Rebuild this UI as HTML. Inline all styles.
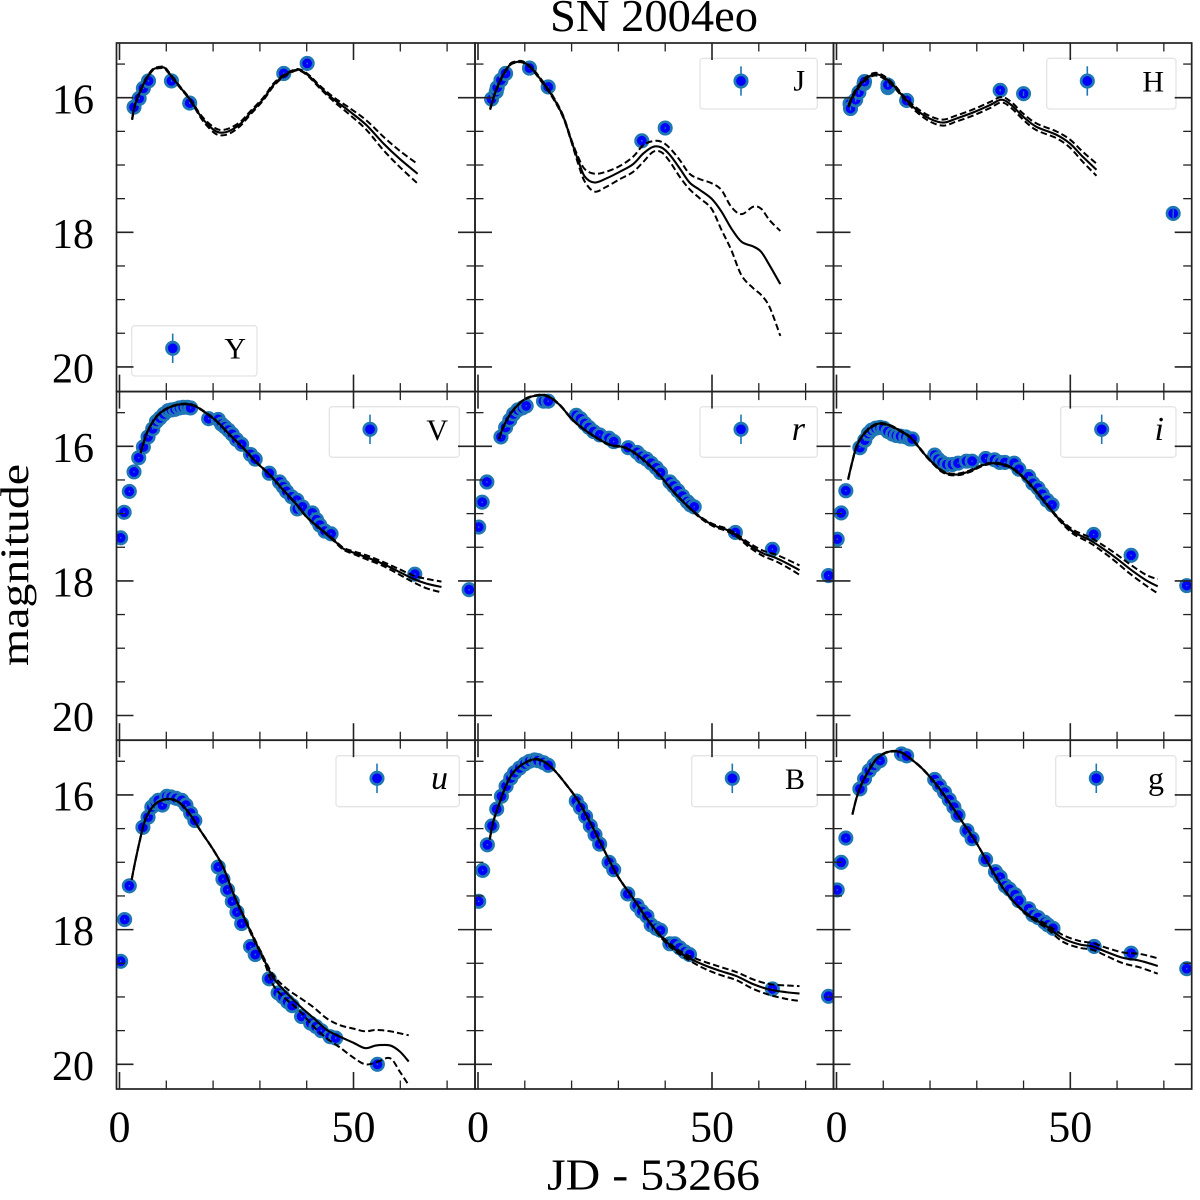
<!DOCTYPE html>
<html>
<head>
<meta charset="utf-8">
<title>SN 2004eo</title>
<style>
html,body{margin:0;padding:0;background:#fff;}
svg{display:block;}
text{font-family:"Liberation Serif",serif;fill:#000;}
</style>
</head>
<body>
<svg id="chart" xmlns="http://www.w3.org/2000/svg" width="1200" height="1200" viewBox="0 0 1200 1200">
  <rect x="0" y="0" width="1200" height="1200" fill="#fff"/>
  <text x="654" y="31" font-size="46" text-anchor="middle" textLength="208" lengthAdjust="spacingAndGlyphs">SN 2004eo</text>
  <text x="653.5" y="1189.5" font-size="44" text-anchor="middle" textLength="213" lengthAdjust="spacingAndGlyphs">JD - 53266</text>
  <text transform="translate(28,565) rotate(-90)" font-size="40" text-anchor="middle" textLength="202" lengthAdjust="spacingAndGlyphs">magnitude</text>
</svg>
<script>
// ---- Band Y ----
const tY = [3.1,4.2,5.1,6.2,11.1,15.0,35.1,40.1];
const magY = [16.14,16.01,15.86,15.75,15.75,16.08,15.64,15.49];
const errY = 0.012;
const modelTY = [2.7,3.3,4.4,5.8,7.2,8.7,9.7,11.1,12.9,15.1,17.2,18.6,20.4,21.8,23.6,25.8,27.9,30.7,32.9,35.0,37.5,38.9,40.7,42.8,45.7,49.3,52.8,56.4,59.9,63.7];
const modelMagY = [16.32,16.11,15.91,15.71,15.58,15.55,15.56,15.68,15.84,16.03,16.26,16.38,16.49,16.52,16.49,16.39,16.23,16.02,15.81,15.68,15.59,15.60,15.69,15.84,16.02,16.21,16.41,16.68,16.91,17.13];
const modelUpY = [0.01,0.01,0.01,0.01,0.01,0.01,0.01,0.01,0.01,0.01,0.02,0.03,0.04,0.04,0.04,0.03,0.025,0.02,0.02,0.015,0.01,0.01,0.015,0.02,0.03,0.05,0.07,0.10,0.12,0.145];
const modelLoY = modelUpY;

// ---- Band J ----
const tJ = [2.9,3.9,4.1,4.9,5.9,11.0,15.0,35.0,40.0];
const magJ = [16.02,15.91,15.85,15.74,15.64,15.56,15.84,16.64,16.45];
const errJ = 0.012;
const modelTJ = [2.6,3.6,5.0,6.8,8.2,9.6,11.4,13.5,16.0,18.2,19.9,21.4,22.8,24.9,27.4,30.3,33.1,35.3,37.4,39.2,41.0,43.1,45.2,47.4,49.9,52.0,54.1,56.3,58.8,60.5,62.3,64.6];
const modelMagJ = [16.17,15.94,15.71,15.51,15.47,15.47,15.56,15.74,15.99,16.28,16.63,16.93,17.17,17.26,17.20,17.10,16.99,16.83,16.73,16.74,16.85,17.05,17.26,17.37,17.50,17.69,17.94,18.14,18.21,18.29,18.49,18.77];
const modelUpJ = [0.01,0.01,0.01,0.01,0.01,0.01,0.01,0.015,0.015,0.015,0.015,0.05,0.11,0.13,0.10,0.085,0.11,0.125,0.085,0.085,0.10,0.125,0.13,0.16,0.23,0.32,0.32,0.41,0.59,0.64,0.67,0.79];
const modelLoJ = [0.01,0.01,0.01,0.01,0.01,0.01,0.01,0.015,0.015,0.015,0.015,0.05,0.075,0.135,0.125,0.11,0.115,0.125,0.075,0.07,0.10,0.125,0.10,0.125,0.15,0.27,0.32,0.50,0.62,0.64,0.62,0.77];

// ---- Band H ----
const tH = [2.9,3.0,4.1,4.8,5.9,6.0,11.0,11.0,15.0,35.0,40.0,72.0];
const magH = [16.09,16.16,16.03,15.92,15.79,15.76,15.85,15.81,16.04,15.89,15.94,17.72];
const errH = [0.03,0.03,0.03,0.03,0.03,0.03,0.03,0.03,0.03,0.02,0.035,0.065];
const modelTH = [2.6,3.6,5.0,6.4,8.2,10.0,12.1,14.6,17.1,19.9,22.8,25.6,29.2,32.8,35.3,37.4,39.9,42.7,47.0,49.9,52.7,55.6];
const modelMagH = [16.12,15.96,15.81,15.71,15.65,15.69,15.81,16.01,16.18,16.31,16.37,16.31,16.22,16.11,16.03,16.11,16.28,16.43,16.55,16.68,16.88,17.07];
const modelUpH = [0.02,0.02,0.02,0.02,0.02,0.02,0.02,0.02,0.03,0.04,0.045,0.045,0.045,0.045,0.04,0.045,0.045,0.05,0.05,0.06,0.075,0.09];
const modelLoH = modelUpH;

// ---- Band V ----
const tV = [0.25,1.0,2.1,3.1,4.1,5.1,6.1,7.1,7.9,8.65,9.5,10.4,11.1,11.9,12.8,13.6,14.5,15.2,19.05,21.1,21.8,22.5,23.3,24.1,25.0,26.1,28.0,29.0,32.0,34.2,35.0,35.7,36.8,37.9,38.0,39.1,41.2,42.1,42.8,43.9,45.2,63.1,74.7];
const magV = [17.36,16.98,16.67,16.38,16.17,16.01,15.86,15.74,15.63,15.58,15.52,15.47,15.46,15.45,15.43,15.42,15.42,15.43,15.59,15.60,15.67,15.71,15.76,15.82,15.90,15.97,16.12,16.19,16.40,16.53,16.60,16.67,16.75,16.80,16.93,16.90,16.99,17.09,17.17,17.26,17.30,17.90,18.13];
const errV = 0.01;
const modelTV = [4.5,5.1,5.8,6.9,8.3,10.1,11.9,14.0,16.1,18.6,20.8,23.6,26.5,29.3,32.2,35.0,37.9,40.0,42.8,45.7,47.8,49.97,52.8,56.4,59.9,62.8,65.6,68.8];
const modelMagV = [16.10,15.96,15.81,15.66,15.53,15.44,15.39,15.37,15.40,15.51,15.63,15.83,16.03,16.24,16.43,16.65,16.87,17.05,17.22,17.39,17.52,17.58,17.65,17.75,17.87,17.97,18.04,18.09];
const modelUpV = [0.005,0.005,0.005,0.005,0.005,0.005,0.005,0.005,0.005,0.005,0.005,0.005,0.005,0.005,0.005,0.005,0.005,0.005,0.005,0.012,0.015,0.02,0.03,0.03,0.04,0.05,0.07,0.08];
const modelLoV = modelUpV;

// ---- Band r ----
const tR = [0.15,0.9,1.9,4.9,5.9,6.8,7.6,8.5,9.5,10.3,14.0,15.0,21.0,21.9,22.8,23.7,24.7,26.0,28.0,29.0,32.1,34.0,34.9,36.0,37.0,38.1,39.0,41.0,41.8,42.7,43.7,44.7,45.4,46.2,55.0,62.9,74.9];
const magR = [17.20,16.83,16.53,15.86,15.72,15.61,15.52,15.46,15.43,15.40,15.33,15.33,15.54,15.59,15.66,15.72,15.78,15.83,15.88,15.93,16.02,16.09,16.15,16.19,16.25,16.32,16.39,16.53,16.59,16.66,16.74,16.82,16.87,16.90,17.28,17.53,17.92];
const errR = 0.01;
const modelTR = [4.5,5.3,6.8,8.2,10.0,12.1,14.2,16.0,17.8,19.6,21.4,23.9,26.7,28.8,31.0,33.1,36.0,38.8,41.7,44.5,47.4,50.2,53.1,55.2,58.0,60.9,63.7,66.6,68.7];
const modelMagR = [15.89,15.73,15.53,15.41,15.30,15.25,15.24,15.30,15.41,15.56,15.68,15.81,15.93,15.99,16.01,16.08,16.24,16.43,16.67,16.87,17.05,17.17,17.24,17.32,17.47,17.59,17.66,17.76,17.84];
const modelUpR = [0.005,0.005,0.005,0.005,0.005,0.005,0.005,0.005,0.005,0.005,0.005,0.005,0.005,0.005,0.005,0.005,0.005,0.005,0.005,0.005,0.01,0.015,0.02,0.02,0.03,0.04,0.05,0.06,0.07];
const modelLoR = modelUpR;

// ---- Band i ----
const tI = [0.15,1.0,2.0,5.0,6.05,6.8,7.5,8.4,9.3,10.1,11.0,12.0,12.8,13.7,14.8,15.7,16.2,21.0,21.7,22.6,23.6,24.8,26.0,27.8,29.0,31.9,33.8,34.9,36.0,38.0,39.0,41.1,42.0,43.1,44.0,45.0,46.1,55.0,63.0,74.9];
const magI = [17.38,16.99,16.66,16.02,15.91,15.81,15.76,15.73,15.72,15.73,15.78,15.82,15.84,15.85,15.86,15.89,15.89,16.13,16.19,16.24,16.27,16.27,16.25,16.22,16.22,16.18,16.20,16.24,16.24,16.25,16.34,16.45,16.55,16.62,16.71,16.80,16.87,17.31,17.62,18.07];
const errI = 0.01;
const modelTI = [2.5,3.2,4.3,5.7,7.5,9.3,11.4,13.9,16.0,17.8,19.9,22.8,25.6,28.5,31.3,33.5,35.6,37.7,40.2,42.7,45.6,47.7,50.6,54.1,57.0,59.8,62.7,66.2,68.7];
const modelMagI = [16.49,16.28,16.00,15.83,15.71,15.66,15.69,15.78,15.88,16.03,16.20,16.38,16.42,16.37,16.28,16.25,16.27,16.33,16.48,16.67,16.92,17.09,17.27,17.39,17.52,17.66,17.82,17.99,18.08];
const modelUpI = [0.008,0.008,0.008,0.008,0.008,0.008,0.008,0.008,0.008,0.008,0.008,0.012,0.012,0.012,0.008,0.008,0.008,0.008,0.008,0.008,0.008,0.015,0.03,0.04,0.05,0.06,0.07,0.08,0.105];
const modelLoI = modelUpI;

// ---- Band u ----
const tU = [0.25,1.1,2.1,5.0,6.1,6.9,7.7,8.3,9.15,10.1,11.0,12.1,13.3,14.2,15.2,16.1,21.1,22.1,23.1,24.1,25.1,26.1,28.0,29.0,32.0,33.9,34.9,35.9,36.9,38.9,40.85,42.0,43.1,45.0,46.2,55.1];
const magU = [18.47,17.85,17.35,16.48,16.33,16.18,16.12,16.08,16.15,16.02,16.03,16.05,16.08,16.15,16.27,16.38,17.07,17.25,17.41,17.58,17.74,17.91,18.25,18.37,18.73,18.94,19.00,19.07,19.13,19.29,19.39,19.44,19.50,19.59,19.61,20.00];
const errU = 0.012;
const modelTU = [2.6,3.3,4.4,5.4,6.9,8.65,10.8,12.9,15.1,17.2,20.0,22.2,24.3,26.5,28.6,30.7,32.9,35.7,38.6,41.4,44.3,47.1,49.97,52.5,54.9,57.8,59.9,61.8];
const modelMagU = [17.26,17.01,16.66,16.39,16.19,16.09,16.06,16.12,16.29,16.52,16.81,17.08,17.46,17.80,18.12,18.42,18.72,18.94,19.14,19.31,19.49,19.59,19.68,19.76,19.72,19.72,19.81,19.96];
const modelUpU = [0.004,0.004,0.004,0.004,0.004,0.004,0.004,0.004,0.004,0.004,0.004,0.004,0.006,0.01,0.02,0.02,0.04,0.065,0.125,0.16,0.17,0.17,0.21,0.25,0.23,0.21,0.27,0.39];
const modelLoU = [0.004,0.004,0.004,0.004,0.004,0.004,0.004,0.004,0.004,0.004,0.004,0.004,0.006,0.01,0.02,0.02,0.11,0.10,0.075,0.125,0.125,0.16,0.22,0.24,0.25,0.19,0.30,0.35];

// ---- Band B ----
const tB = [0.15,1.0,2.0,3.0,4.0,5.0,6.0,7.0,7.8,8.9,10.0,11.0,12.1,12.8,14.0,15.0,21.0,21.9,23.0,24.0,25.0,26.0,28.0,29.0,32.0,34.0,35.0,36.1,37.0,38.1,39.0,41.0,42.0,43.1,44.2,45.2,62.9,74.9];
const magB = [17.58,17.12,16.74,16.46,16.21,16.02,15.87,15.75,15.67,15.60,15.54,15.50,15.48,15.49,15.52,15.56,16.09,16.19,16.32,16.46,16.59,16.73,17.00,17.11,17.47,17.64,17.73,17.80,17.93,17.98,18.01,18.21,18.21,18.27,18.33,18.37,18.88,18.99];
const errB = 0.01;
const modelTB = [2.5,3.3,4.6,6.05,7.5,9.6,12.1,14.2,16.4,18.9,21.4,24.2,27.1,29.9,33.1,36.0,38.8,41.7,44.5,48.1,51.6,55.2,58.8,62.3,65.9,68.7];
const modelMagB = [16.66,16.39,16.12,15.85,15.67,15.54,15.47,15.51,15.64,15.85,16.09,16.44,16.84,17.21,17.53,17.83,18.08,18.27,18.40,18.52,18.61,18.69,18.81,18.89,18.93,18.95];
const modelUpB = [0.004,0.004,0.004,0.004,0.004,0.004,0.004,0.004,0.004,0.004,0.004,0.004,0.004,0.004,0.004,0.004,0.015,0.025,0.03,0.05,0.06,0.06,0.07,0.08,0.10,0.11];
const modelLoB = modelUpB;

// ---- Band g ----
const tG = [0.15,1.0,2.0,5.0,6.0,7.0,8.0,8.9,9.3,13.9,15.0,21.0,22.0,23.1,24.1,25.1,26.0,27.9,29.0,31.9,34.0,35.0,36.1,37.0,38.2,39.0,41.1,42.0,43.1,44.5,45.2,46.3,55.1,63.0,74.9];
const magG = [17.41,17.00,16.64,15.91,15.76,15.64,15.56,15.50,15.49,15.39,15.42,15.77,15.86,15.96,16.07,16.18,16.30,16.53,16.65,16.96,17.14,17.22,17.35,17.40,17.48,17.57,17.69,17.78,17.82,17.89,17.93,17.98,18.25,18.35,18.58];
const errG = 0.01;
const modelTG = [3.4,4.3,5.3,6.8,8.5,10.3,12.1,13.9,16.0,18.5,21.4,24.2,27.1,29.9,32.8,35.6,38.5,41.3,44.9,48.4,52.0,54.8,57.7,61.3,64.8,68.7];
const modelMagG = [16.29,16.04,15.85,15.65,15.47,15.38,15.35,15.37,15.47,15.62,15.85,16.12,16.42,16.71,17.06,17.38,17.63,17.80,17.95,18.13,18.22,18.25,18.33,18.42,18.46,18.54];
const modelUpG = [0.004,0.004,0.004,0.004,0.004,0.004,0.004,0.004,0.004,0.004,0.004,0.004,0.004,0.004,0.004,0.004,0.004,0.015,0.03,0.05,0.05,0.05,0.06,0.08,0.10,0.115];
const modelLoG = modelUpG;

// ---- Axis tick values ----
const yMajorTicks = [16,18,20];
const yMinorTicks = [15.5,16.5,17,17.5,18.5,19,19.5];
const xMajorTicks = [0,50];
const xMinorTicks = [10,20,30,40,60,70];
const yTickLabels = ['16','18','20'];
const xTickLabels = ['0','50'];

// ---- Axis domains ----
const tMin = -0.64, tMax = 75.96;
const magTop = 15.187, magBottom = 20.367;

// ---- Layout ----
const colEdges = [116.5,475,833.5,1191.7];
const rowEdges = [43,391.6,740.2,1089];
const panels = [
  {label:'Y',row:0,col:0,t:tY,mag:magY,err:errY,mt:modelTY,mm:modelMagY,mu:modelUpY,ml:modelLoY,box:[131.7,325.7,125.3,50.3],hx:172.7,hy:348.3,tx:246,ty:358.5,it:false,fs:30},
  {label:'J',row:0,col:1,t:tJ,mag:magJ,err:errJ,mt:modelTJ,mm:modelMagJ,mu:modelUpJ,ml:modelLoJ,box:[700,58.3,117.3,50.7],hx:741,hy:81,tx:805,ty:90.5,it:false,fs:30},
  {label:'H',row:0,col:2,t:tH,mag:magH,err:errH,mt:modelTH,mm:modelMagH,mu:modelUpH,ml:modelLoH,box:[1046.7,58.3,129.3,50.7],hx:1087.3,hy:81,tx:1164,ty:91.5,it:false,fs:30},
  {label:'V',row:1,col:0,t:tV,mag:magV,err:errV,mt:modelTV,mm:modelMagV,mu:modelUpV,ml:modelLoV,box:[329.3,406.7,130,50.6],hx:370,hy:429.3,tx:448,ty:440,it:false,fs:30},
  {label:'r',row:1,col:1,t:tR,mag:magR,err:errR,mt:modelTR,mm:modelMagR,mu:modelUpR,ml:modelLoR,box:[700,406.7,117.3,50.6],hx:741,hy:429.3,tx:805,ty:440,it:true,fs:34},
  {label:'i',row:1,col:2,t:tI,mag:magI,err:errI,mt:modelTI,mm:modelMagI,mu:modelUpI,ml:modelLoI,box:[1060.7,406.7,115.3,50.6],hx:1101.7,hy:429.3,tx:1164,ty:440,it:true,fs:34},
  {label:'u',row:2,col:0,t:tU,mag:magU,err:errU,mt:modelTU,mm:modelMagU,mu:modelUpU,ml:modelLoU,box:[336,755.7,123.3,51],hx:377,hy:778.3,tx:448,ty:789,it:true,fs:34},
  {label:'B',row:2,col:1,t:tB,mag:magB,err:errB,mt:modelTB,mm:modelMagB,mu:modelUpB,ml:modelLoB,box:[691.7,755.7,125.6,51],hx:732.3,hy:778.3,tx:805,ty:789,it:false,fs:30},
  {label:'g',row:2,col:2,t:tG,mag:magG,err:errG,mt:modelTG,mm:modelMagG,mu:modelUpG,ml:modelLoG,box:[1055.7,755.7,120.3,51],hx:1096.3,hy:778.3,tx:1164,ty:789,it:false,fs:32}
];

const NS = 'http://www.w3.org/2000/svg';
const svg = document.getElementById('chart');
const FRAME = '#222';

function mk(tag, attrs, parent) {
  const el = document.createElementNS(NS, tag);
  for (const k in attrs) el.setAttribute(k, attrs[k]);
  parent.appendChild(el);
  return el;
}
function xScale(col, t) {
  const l = colEdges[col], r = colEdges[col + 1];
  return l + (t - tMin) / (tMax - tMin) * (r - l);
}
function yScale(row, m) {
  const a = rowEdges[row], b = rowEdges[row + 1];
  return a + (m - magTop) / (magBottom - magTop) * (b - a);
}
function smoothPath(pts) {
  let d = 'M' + pts[0][0].toFixed(2) + ' ' + pts[0][1].toFixed(2);
  for (let i = 0; i < pts.length - 1; i++) {
    const p0 = pts[Math.max(0, i - 1)], p1 = pts[i], p2 = pts[i + 1], p3 = pts[Math.min(pts.length - 1, i + 2)];
    const c1x = p1[0] + (p2[0] - p0[0]) / 6, c1y = p1[1] + (p2[1] - p0[1]) / 6;
    const c2x = p2[0] - (p3[0] - p1[0]) / 6, c2y = p2[1] - (p3[1] - p1[1]) / 6;
    d += 'C' + c1x.toFixed(2) + ' ' + c1y.toFixed(2) + ' ' + c2x.toFixed(2) + ' ' + c2y.toFixed(2) + ' ' + p2[0].toFixed(2) + ' ' + p2[1].toFixed(2);
  }
  return d;
}

const defs = mk('defs', {}, svg);

panels.forEach(function (p, idx) {
  const l = colEdges[p.col], r = colEdges[p.col + 1], top = rowEdges[p.row], bot = rowEdges[p.row + 1];
  const g = mk('g', {}, svg);
  
  

  const clipId = 'clip' + idx;
  const cp = mk('clipPath', {id: clipId}, defs);
  mk('rect', {x: l, y: top, width: r - l, height: bot - top}, cp);

  // observed points
  const pointsG = mk('g', {'clip-path': 'url(#' + clipId + ')'}, g);
  
  
  p.t.forEach(function (t, i) {
    const cx = xScale(p.col, t), cy = yScale(p.row, p.mag[i]);
    const e = Array.isArray(p.err) ? p.err[i] : p.err;
    const pt = mk('circle', {cx: cx, cy: cy, r: 6.2, fill: '#0000ff', stroke: '#1f77b4', 'stroke-width': 2.7}, pointsG);
    
    
    const bar = mk('line', {x1: cx, x2: cx, y1: yScale(p.row, p.mag[i] - e), y2: yScale(p.row, p.mag[i] + e), stroke: '#1f77b4', 'stroke-width': 1.4}, pointsG);
    
    
  });

  // model curves
  const meanPts = p.mt.map(function (t, i) { return [xScale(p.col, t), yScale(p.row, p.mm[i])]; });
  const upPts = p.mt.map(function (t, i) { return [xScale(p.col, t), yScale(p.row, p.mm[i] - p.mu[i])]; });
  const loPts = p.mt.map(function (t, i) { return [xScale(p.col, t), yScale(p.row, p.mm[i] + p.ml[i])]; });
  const mean = mk('path', {d: smoothPath(meanPts), fill: 'none', stroke: '#000', 'stroke-width': 2.1, 'clip-path': 'url(#' + clipId + ')'}, g);
  
  
  const up = mk('path', {d: smoothPath(upPts), fill: 'none', stroke: '#000', 'stroke-width': 2, 'stroke-dasharray': '6.5 3.2', 'clip-path': 'url(#' + clipId + ')'}, g);
  
  
  const lo = mk('path', {d: smoothPath(loPts), fill: 'none', stroke: '#000', 'stroke-width': 2, 'stroke-dasharray': '6.5 3.2', 'clip-path': 'url(#' + clipId + ')'}, g);
  
  

  // legend
  const lg = mk('g', {}, g);
  
  
  const lb = mk('rect', {x: p.box[0], y: p.box[1], width: p.box[2], height: p.box[3], rx: 3, ry: 3, fill: 'rgba(255,255,255,0.8)', stroke: '#e4e4e4', 'stroke-width': 1.3}, lg);
  
  
  const hl = mk('line', {x1: p.hx, x2: p.hx, y1: p.hy - 14.7, y2: p.hy + 14.7, stroke: '#1f77b4', 'stroke-width': 1.6}, lg);
  
  
  const hm = mk('circle', {cx: p.hx, cy: p.hy, r: 6.2, fill: '#0000ff', stroke: '#1f77b4', 'stroke-width': 2.7}, lg);
  
  
  const lt = mk('text', {x: p.tx, y: p.ty, 'font-size': p.fs, 'text-anchor': 'end', 'font-style': p.it ? 'italic' : 'normal'}, lg);
  
  
  lt.textContent = p.label;

  // frame
  const frame = mk('rect', {x: l, y: top, width: r - l, height: bot - top, fill: 'none', stroke: FRAME, 'stroke-width': 1.7}, g);
  
  

  // ticks
  const ticks = mk('g', {stroke: FRAME}, g);
  
  
  function yTick(v, len, w) {
    const y = yScale(p.row, v);
    const a = mk('line', {x1: l, x2: l + len, y1: y, y2: y, 'stroke-width': w}, ticks);
    
    
    const b = mk('line', {x1: r - len, x2: r, y1: y, y2: y, 'stroke-width': w}, ticks);
    
    
  }
  function xTick(v, len, w) {
    const x = xScale(p.col, v);
    const a = mk('line', {x1: x, x2: x, y1: bot - len, y2: bot, 'stroke-width': w}, ticks);
    
    
    const b = mk('line', {x1: x, x2: x, y1: top, y2: top + len, 'stroke-width': w}, ticks);
    
    
  }
  yMajorTicks.forEach(function (v) { yTick(v, 17, 1.6); });
  yMinorTicks.forEach(function (v) { yTick(v, 8.5, 1.3); });
  xMajorTicks.forEach(function (v) { xTick(v, 17, 1.6); });
  xMinorTicks.forEach(function (v) { xTick(v, 8.5, 1.3); });

  // tick labels
  if (p.col === 0) {
    yMajorTicks.forEach(function (v, i) {
      const tl = mk('text', {x: 94, y: yScale(p.row, v) + 15.6, 'font-size': 42, 'text-anchor': 'end'}, g);
      
      
      tl.textContent = yTickLabels[i];
    });
  }
  if (p.row === 2) {
    xMajorTicks.forEach(function (v, i) {
      const tl = mk('text', {x: xScale(p.col, v), y: 1141.5, 'font-size': 44, 'text-anchor': 'middle'}, g);
      
      
      tl.textContent = xTickLabels[i];
    });
  }
});
</script>
</body>
</html>
